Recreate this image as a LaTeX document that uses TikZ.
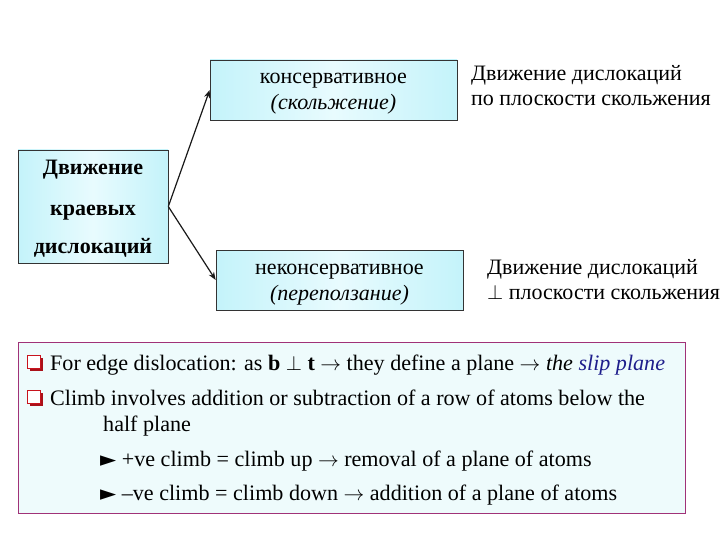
\documentclass[tikz,border=0pt]{standalone}
\usepackage{fontspec}
\setmainfont{Liberation Serif}
\newfontfamily\symfont{DejaVu Sans}
\usetikzlibrary{arrows.meta}
\definecolor{boxfillA}{RGB}{196,243,250}
\definecolor{boxfillB}{RGB}{232,251,254}
\definecolor{noteedge}{RGB}{160,50,120}
\definecolor{notefill}{RGB}{238,251,252}
\definecolor{slipblue}{RGB}{30,30,140}
\definecolor{bulletred}{RGB}{200,20,30}
\newcommand{\shortarr}{$\rightarrow$}
\newcommand{\tri}{{\symfont\fontsize{21}{24}\selectfont ►}}
\tikzset{
  conbox/.style={draw=black!80, line width=0.6pt, left color=boxfillA, right color=boxfillA, middle color=boxfillB, inner sep=0pt},
  boxtxt/.style={anchor=base, inner sep=0pt, font=\fontsize{22}{26}\selectfont},
  conn/.style={-{Stealth[length=8pt,width=6pt]}, line width=1.2pt, black!90},
  txt/.style={anchor=base west, inner sep=0pt, font=\fontsize{22.1}{26}\selectfont},
  sidetxt/.style={anchor=base west, inner sep=0pt, font=\fontsize{22}{26}\selectfont},
  qbullet/.style={draw=bulletred, line width=0.8pt, fill=white, minimum size=13pt, inner sep=0pt},
  qshadow/.style={fill=bulletred!85!black, minimum size=13pt, inner sep=0pt},
}
\begin{document}
\begin{tikzpicture}[x=1pt,y=-1pt]
\useasboundingbox (0,0) rectangle (720,540);
% boxes
\node[conbox, minimum width=150pt, minimum height=113pt] (L) at (93,206.5) {};
\node[boxtxt, font=\bfseries\fontsize{22}{26}\selectfont] (L1) at (93,175) {Движение};
\node[boxtxt, font=\bfseries\fontsize{22}{26}\selectfont] (L2) at (93,215) {краевых};
\node[boxtxt, font=\bfseries\fontsize{22}{26}\selectfont] (L3) at (93,254) {дислокаций};
\node[conbox, minimum width=247pt, minimum height=60pt] (T) at (333.5,90) {};
\node[boxtxt] (T1) at (333.5,84) {консервативное};
\node[boxtxt] (T2) at (333.5,110) {\textit{(скольжение)}};
\node[conbox, minimum width=247pt, minimum height=60pt] (B) at (339.5,280) {};
\node[boxtxt] (B1) at (339.5,274) {неконсервативное};
\node[boxtxt] (B2) at (339.5,300) {\textit{(переползание)}};
\draw[conn] (L.east) -- (T.west);
\draw[conn] (L.east) -- (B.west);
% side texts
\node[sidetxt] (s1) at (471,81) {Движение дислокаций};
\node[sidetxt] (s2) at (471,106) {по плоскости скольжения};
\node[sidetxt] (s3) at (487,274) {Движение дислокаций};
\node[sidetxt] (s4) at (487,299) {$\perp$ плоскости скольжения};
% note box
\node[draw=noteedge, line width=0.8pt, fill=notefill, minimum width=667pt, minimum height=171pt, inner sep=0pt] (N) at (351.5,427.5) {};
\node[qshadow] (q1s) at (36,364) {};
\node[qbullet] (q1) at (34,362) {};
\node[qshadow] (q2s) at (36,399) {};
\node[qbullet] (q2) at (34,397) {};
\node[txt] (l1) at (50,370) {For edge dislocation: as \textbf{b} $\perp$ \textbf{t} \shortarr{} they define a plane \shortarr{} \textit{the \textcolor{slipblue}{slip plane}}};
\node[txt] (l2) at (50,405) {Climb involves addition or subtraction of a row of atoms below the};
\node[txt] (l3) at (103,431) {half plane};
\node[txt] (l4) at (100,466) {\tri{} +ve climb = climb up \shortarr{} removal of a plane of atoms};
\node[txt] (l5) at (100,500) {\tri{} –ve climb = climb down \shortarr{} addition of a plane of atoms};
\end{tikzpicture}
\end{document}
